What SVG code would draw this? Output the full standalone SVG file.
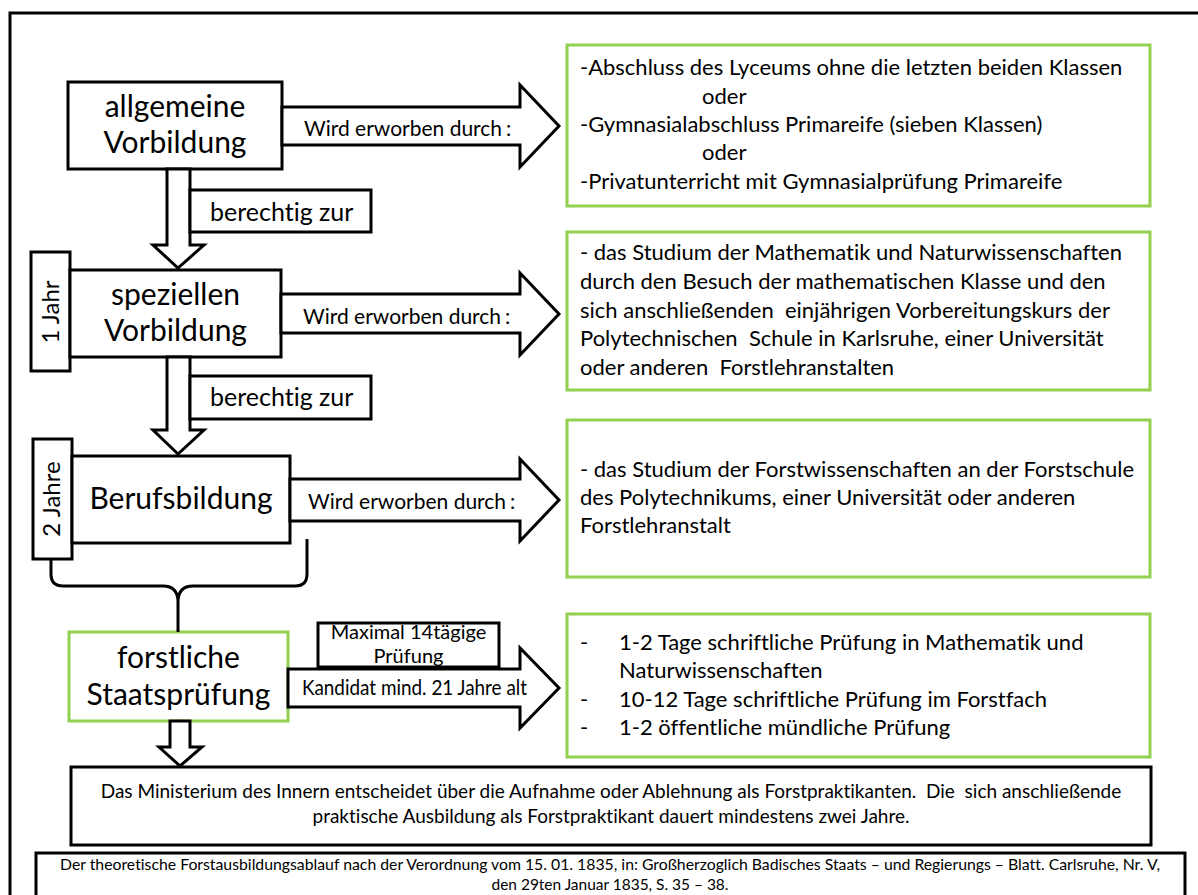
<svg xmlns="http://www.w3.org/2000/svg" width="1198" height="895" viewBox="0 0 1198 895">
  <style>
    .frame { fill: none; stroke: #000; stroke-width: 3; }
    .box { fill: #fff; stroke: #000; stroke-width: 3; }
    .gbox { fill: #fff; stroke: #92D050; stroke-width: 3; }
    .arrow { fill: #fff; stroke: #000; stroke-width: 3; stroke-linejoin: miter; }
    .brace { fill: none; stroke: #000; stroke-width: 3; }
    text { font-family: Lato, "Liberation Sans", sans-serif; fill: #000; font-variant-ligatures: none; }
    .big { font-size: 30px; text-anchor: middle; }
    .lbl { font-size: 21px; }
    .tag { font-size: 25px; }
    .side { font-size: 24px; text-anchor: middle; }
    .body { font-size: 22px; }
    .small { font-size: 20px; text-anchor: middle; }
    .list { font-size: 22px; }
    .note { font-size: 19px; text-anchor: middle; }
    .cite { font-size: 15px; text-anchor: middle; }
  </style>

  <!-- outer frame, running off the right and bottom edges -->
  <rect class="frame" x="10" y="13" width="1200" height="900"/>

  <!-- left column -->
  <g id="allgemeine">
    <rect class="box" x="68" y="82" width="214" height="87"/>
    <text class="big" x="175" y="117">allgemeine</text>
    <text class="big" x="175" y="153">Vorbildung</text>
  </g>

  <g id="jahr1">
    <rect class="box" x="31" y="252" width="39" height="119"/>
    <text class="side" transform="translate(59,312) rotate(-90)">1 Jahr</text>
  </g>

  <g id="speziellen">
    <rect class="box" x="70" y="270" width="211" height="87"/>
    <text class="big" x="175.5" y="305">speziellen</text>
    <text class="big" x="175.5" y="341">Vorbildung</text>
  </g>

  <g id="jahre2">
    <rect class="box" x="33" y="439" width="39" height="120"/>
    <text class="side" transform="translate(60,499) rotate(-90)">2 Jahre</text>
  </g>

  <g id="berufsbildung">
    <rect class="box" x="72" y="456" width="218" height="87"/>
    <text class="big" x="181" y="509">Berufsbildung</text>
  </g>

  <g id="staatspruefung">
    <rect class="gbox" x="69" y="632" width="219" height="89"/>
    <text class="big" x="178.5" y="668">forstliche</text>
    <text class="big" x="178.5" y="705">Staatsprüfung</text>
  </g>

  <g id="dauer">
    <rect class="box" x="318" y="623" width="181" height="44"/>
    <text class="small" x="408.5" y="639">Maximal 14tägige</text>
    <text class="small" x="408.5" y="663">Prüfung</text>
  </g>

  <!-- right column -->
  <g id="wege-allgemein">
    <rect class="gbox" x="567" y="45" width="583" height="161"/>
    <text class="body" x="580" y="75">-Abschluss des Lyceums ohne die letzten beiden Klassen</text>
    <text class="body" x="702" y="104">oder</text>
    <text class="body" x="580" y="132">-Gymnasialabschluss Primareife (sieben Klassen)</text>
    <text class="body" x="702" y="160">oder</text>
    <text class="body" x="580" y="189">-Privatunterricht mit Gymnasialprüfung Primareife</text>
  </g>

  <g id="wege-speziell">
    <rect class="gbox" x="567" y="232" width="583" height="158"/>
    <text class="body" x="580" y="260">- das Studium der Mathematik und Naturwissenschaften</text>
    <text class="body" x="580" y="289">durch den Besuch der mathematischen Klasse und den</text>
    <text class="body" x="580" y="318" xml:space="preserve">sich anschließenden  einjährigen Vorbereitungskurs der</text>
    <text class="body" x="580" y="346" xml:space="preserve">Polytechnischen  Schule in Karlsruhe, einer Universität</text>
    <text class="body" x="580" y="375" xml:space="preserve">oder anderen  Forstlehranstalten</text>
  </g>

  <g id="wege-beruf">
    <rect class="gbox" x="567" y="420" width="583" height="157"/>
    <text class="body" x="580" y="477">- das Studium der Forstwissenschaften an der Forstschule</text>
    <text class="body" x="580" y="505">des Polytechnikums, einer Universität oder anderen</text>
    <text class="body" x="580" y="533">Forstlehranstalt</text>
  </g>

  <g id="pruefungsteile">
    <rect class="gbox" x="567" y="614" width="583" height="143"/>
    <text class="list" x="580" y="650">-</text>
    <text class="list" x="619" y="650">1-2 Tage schriftliche Prüfung in Mathematik und</text>
    <text class="list" x="619" y="678">Naturwissenschaften</text>
    <text class="list" x="580" y="707">-</text>
    <text class="list" x="619" y="707">10-12 Tage schriftliche Prüfung im Forstfach</text>
    <text class="list" x="580" y="735">-</text>
    <text class="list" x="619" y="735">1-2 öffentliche mündliche Prüfung</text>
  </g>

  <!-- bottom -->
  <g id="ministerium">
    <rect class="box" x="71" y="767" width="1080" height="78"/>
    <text class="note" x="611" y="798" xml:space="preserve">Das Ministerium des Innern entscheidet über die Aufnahme oder Ablehnung als Forstpraktikanten.  Die  sich anschließende</text>
    <text class="note" x="611" y="823">praktische Ausbildung als Forstpraktikant dauert mindestens zwei Jahre.</text>
  </g>

  <g id="quelle">
    <rect class="box" x="36" y="853" width="1149" height="60"/>
    <text class="cite" x="610" y="870" textLength="1100" lengthAdjust="spacingAndGlyphs">Der theoretische Forstausbildungsablauf nach der Verordnung vom 15. 01. 1835, in: Großherzoglich Badisches Staats – und Regierungs – Blatt. Carlsruhe, Nr. V,</text>
    <text class="cite" x="610" y="890" textLength="237" lengthAdjust="spacingAndGlyphs">den 29ten Januar 1835, S. 35 – 38.</text>
  </g>

  <!-- block arrows and brace -->
  <g id="connectors">
    <polygon class="arrow" points="282,107 520,107 520,85 559,126 520,167 520,145 282,145"/>
    <polygon class="arrow" points="281,294 520,294 520,273 559,314 520,355 520,333 281,333"/>
    <polygon class="arrow" points="290,479 520,479 520,459 559,500 520,541 520,521 290,521"/>
    <polygon class="arrow" points="288,669 520,669 520,648 559,688 520,728 520,707 288,707"/>

    <polygon class="arrow" points="167,169 190,169 190,245 204,245 178,268 153,245 167,245"/>
    <polygon class="arrow" points="167,357 190,357 190,430 204,430 178,454 153,430 167,430"/>
    <polygon class="arrow" points="170,721 190,721 190,747 202,747 180,766 159,747 170,747"/>

    <path class="brace" d="M51,559 V574 Q51,586 63,586 H163 Q178,586 178,602 V632 M307,539 V574 Q307,586 295,586 H193 Q178,586 178,602"/>

    <text class="lbl" x="304" y="136">Wird erworben durch<tspan dx="4">:</tspan></text>
    <text class="lbl" x="303" y="324">Wird erworben durch<tspan dx="4">:</tspan></text>
    <text class="lbl" x="308" y="509">Wird erworben durch<tspan dx="4">:</tspan></text>
    <text class="lbl" x="302" y="695" font-size="18" textLength="225" lengthAdjust="spacingAndGlyphs">Kandidat mind. 21 Jahre alt</text>
  </g>

  <g id="berechtigung-1">
    <rect class="box" x="190" y="190" width="181" height="42"/>
    <text class="tag" x="210" y="221">berechtig zur</text>
  </g>
  <g id="berechtigung-2">
    <rect class="box" x="190" y="376" width="181" height="43"/>
    <text class="tag" x="210" y="406">berechtig zur</text>
  </g>
</svg>
